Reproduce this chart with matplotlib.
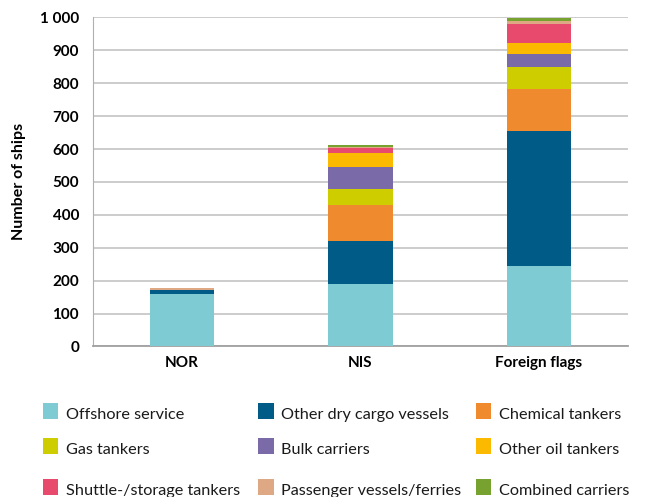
import matplotlib
matplotlib.use("Agg")
import matplotlib.pyplot as plt
from matplotlib.patches import Rectangle
import numpy as np

categories = ["NOR", "NIS", "Foreign flags"]
series_names = ["Offshore service", "Other dry cargo vessels", "Chemical tankers",
                "Gas tankers", "Bulk carriers", "Other oil tankers",
                "Shuttle-/storage tankers", "Passenger vessels/ferries", "Combined carriers"]
offshore = [160, 190, 244]
dry_cargo = [10, 130, 410]
chemical = [2, 110, 128]
gas = [0, 48, 67]
bulk = [0, 67, 40]
other_oil = [0, 43, 33]
shuttle = [0, 15, 58]
passenger = [6, 3, 8]
combined = [0, 6, 10]
colors = ["#7ECBD3", "#005B87", "#F08A2E", "#CDCD00", "#7A6BA8",
          "#FBB900", "#E84A6E", "#DDA883", "#77A22F"]
yticks = [0, 100, 200, 300, 400, 500, 600, 700, 800, 900, 1000]
ytick_labels = ["0", "100", "200", "300", "400", "500", "600", "700", "800", "900", "1 000"]

plt.rcParams['font.family'] = ['Lato', 'DejaVu Sans']

W, H = 646, 497
fig = plt.figure(figsize=(W / 100, H / 100), dpi=100)
ax = fig.add_axes([0.144, 0.303, 0.828, 0.662])

data = [offshore, dry_cargo, chemical, gas, bulk, other_oil, shuttle, passenger, combined]
x = np.arange(len(categories))
bottom = np.zeros(len(categories))
for name, vals, c in zip(series_names, data, colors):
    ax.bar(x, vals, bottom=bottom, width=0.36, color=c, zorder=3, label=name)
    bottom += np.array(vals)

ax.set_xlim(-0.5, 2.5)
ax.set_ylim(0, 1000)
ax.set_yticks(yticks)
ax.set_yticklabels(ytick_labels, fontsize=11, fontweight='bold')
ax.set_xticks(x)
ax.set_xticklabels(categories, fontsize=11, fontweight='bold')
ax.tick_params(axis='both', length=0)
ax.tick_params(axis='y', pad=10)
ax.tick_params(axis='x', pad=7)
ax.yaxis.grid(True, color="#c8c8c8", linewidth=1.3, zorder=0)
for s in ["top", "right"]:
    ax.spines[s].set_visible(False)
ax.spines["left"].set_color("#b0b0b0")
ax.spines["bottom"].set_color("#a0a0a0")
ax.spines["bottom"].set_linewidth(1.3)
ax.set_ylabel("Number of ships", fontsize=11.5, fontweight='bold', labelpad=10)

# manual legend (3 columns, row-wise order), pixel layout
col_x = [42.7, 258.3, 475.7]
row_top = [403, 438, 479]
sq = 15.6
for i, (name, c) in enumerate(zip(series_names, colors)):
    r, k = divmod(i, 3)
    x0 = col_x[k]
    y0 = row_top[r]
    fig.patches.append(Rectangle((x0 / W, 1 - (y0 + sq) / H), sq / W, sq / H,
                                 transform=fig.transFigure, facecolor=c,
                                 edgecolor='none', figure=fig))
    fig.text((x0 + 23) / W, 1 - (y0 + 16.3) / H, name, fontsize=11.7,
             va='baseline', ha='left', color='#1a1a1a')

fig.savefig("out.png", dpi=100)
